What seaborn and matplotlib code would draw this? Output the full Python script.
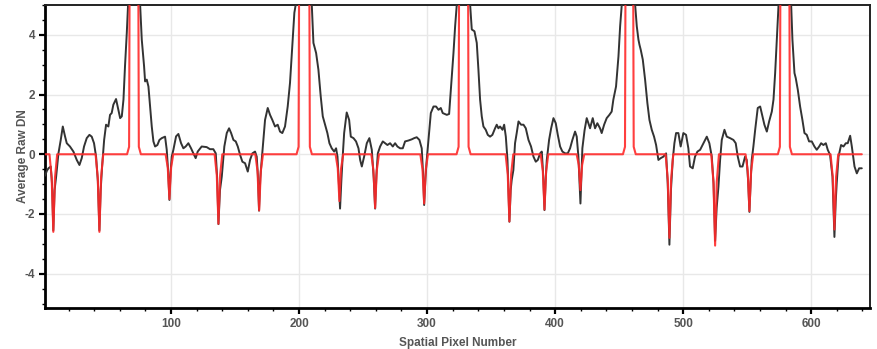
import matplotlib
matplotlib.use("Agg")
import matplotlib.pyplot as plt
import seaborn as sns
from matplotlib.ticker import MultipleLocator

# ---- data ----
black_x = [1.5, 3.0, 4.2, 6.0, 7.0, 8.0, 9.0, 10.2, 12.0, 13.8, 15.4, 17.2, 18.5, 21.0, 23.7, 26.3, 28.4, 30.2,
           32.0, 34.1, 36.2, 38.0, 39.8, 41.4, 42.8, 44.0, 45.0, 46.1, 47.7, 49.2, 51.0, 52.3, 53.6, 54.9, 57.0,
           58.8, 60.2, 61.5, 62.8, 64.0, 65.4, 66.4, 67.5, 74.5, 75.8, 77.1, 78.9, 79.7, 81.0, 82.3, 83.6, 84.9,
           86.2, 87.5, 89.3, 90.9, 92.7, 95.3, 96.6, 97.6, 98.7, 99.6, 100.5, 101.8, 103.9, 105.7, 107.8, 109.6,
           111.4, 113.5, 115.6, 117.4, 119.2, 120.8, 123.9, 127.8, 130.4, 133.0, 134.9, 136.0, 137.0, 138.2,
           139.6, 141.6, 143.5, 145.3, 146.9, 148.7, 150.5, 152.1, 153.9, 155.7, 157.8, 159.9, 161.7, 163.5,
           165.6, 166.9, 167.8, 168.7, 169.7, 170.8, 172.1, 173.4, 175.5, 177.3, 179.1, 181.2, 183.3, 185.1,
           186.9, 189.0, 191.1, 192.9, 194.8, 196.3, 197.4, 199.0, 208.0, 209.9, 211.2, 213.3, 215.1, 216.9,
           218.5, 220.3, 222.1, 223.7, 225.5, 227.4, 228.9, 230.0, 231.0, 232.0, 233.0, 233.9, 235.2, 237.2,
           239.1, 240.4, 242.5, 244.5, 246.4, 247.7, 249.0, 250.8, 252.9, 254.9, 256.8, 258.3, 259.4, 260.4,
           261.5, 263.3, 265.4, 267.2, 269.0, 271.1, 273.2, 275.0, 276.8, 278.9, 281.0, 282.8, 285.4, 288.0,
           289.9, 291.9, 294.0, 295.8, 296.8, 297.7, 298.7, 299.7, 301.1, 302.9, 305.0, 307.0, 308.9, 310.7,
           312.2, 315.4, 317.2, 318.7, 320.6, 321.9, 323.2, 325.0, 332.0, 333.6, 334.9, 337.0, 338.8, 340.1,
           341.4, 342.7, 344.0, 345.8, 347.4, 349.2, 351.0, 353.1, 354.4, 355.7, 357.0, 358.9, 360.2, 361.5,
           362.8, 364.3, 365.3, 366.1, 367.4, 368.7, 370.0, 371.4, 373.4, 375.3, 377.1, 379.2, 381.2, 383.1,
           384.9, 386.5, 388.3, 389.6, 390.7, 391.7, 392.6, 393.5, 395.3, 396.9, 398.7, 400.5, 402.1, 403.9,
           405.7, 407.8, 409.9, 411.7, 413.5, 415.6, 416.9, 418.2, 419.8, 421.3, 423.0, 424.7, 426.0, 427.3,
           429.4, 431.2, 433.0, 435.1, 436.4, 438.3, 440.3, 442.4, 444.2, 445.5, 447.6, 449.5, 450.8, 452.1,
           454.0, 461.0, 462.5, 463.8, 465.1, 465.9, 466.9, 468.5, 470.3, 472.1, 473.7, 475.5, 477.3, 478.9,
           480.7, 482.5, 484.6, 486.7, 488.0, 489.3, 490.5, 491.9, 493.2, 494.5, 496.3, 498.1, 500.2, 502.3,
           504.1, 505.4, 507.5, 509.3, 511.2, 513.3, 515.9, 518.5, 520.5, 522.4, 523.8, 525.0, 526.2, 527.6,
           528.9, 530.2, 532.3, 534.1, 536.7, 539.3, 541.1, 542.7, 544.5, 546.4, 548.4, 549.7, 550.8, 551.8,
           552.8, 553.6, 554.9, 556.3, 558.3, 560.2, 562.0, 563.5, 565.4, 567.2, 569.3, 570.6, 571.9, 573.2,
           574.5, 576.0, 583.0, 584.4, 585.4, 587.0, 588.0, 589.6, 591.4, 593.2, 594.8, 596.6, 598.4, 600.5,
           602.6, 604.4, 606.3, 607.8, 609.6, 611.5, 613.0, 614.8, 616.7, 618.2, 619.2, 620.0, 621.4, 623.4,
           625.3, 627.1, 628.6, 630.5, 631.8, 633.9, 635.7, 637.5, 639.6]
black_y = [-0.72, -0.55, -0.47, -0.41, -1.0, -2.55, -1.2, -0.75, 0.03, 0.48, 0.93, 0.59, 0.37, 0.26, 0.09, -0.19, -0.36, -0.13,
           0.26, 0.54, 0.65, 0.59, 0.37, -0.08, -0.9, -2.55, -1.2, -0.41, 0.48, 0.99, 0.93, 1.32, 1.38, 1.66, 1.85,
           1.49, 1.21, 1.27, 1.83, 2.95, 4.07, 5.02, 7.5, 7.5, 5.02, 3.84, 2.95, 2.44, 2.5, 2.27, 1.6, 0.93,
           0.43, 0.26, 0.31, 0.48, 0.54, 0.59, 0.15, -0.5, -1.53, -0.6, -0.08, 0.15, 0.6, 0.68, 0.37, 0.2,
           0.26, 0.37, 0.2, 0.03, -0.13, 0.09, 0.26, 0.24, 0.17, 0.17, 0.03, -0.8, -2.34, -1.2,
           -0.75, 0.26, 0.71, 0.87, 0.71, 0.48, 0.43, 0.26, -0.02, -0.25, -0.3, -0.58, -0.19, 0.03,
           0.09, -0.08, -0.7, -1.89, -0.8, -0.19, 0.48, 1.15, 1.55, 1.32, 1.15, 0.93, 0.99, 0.76,
           0.71, 0.93, 1.6, 2.39, 3.73, 4.74, 5.02, 7.5, 7.5, 5.02, 3.73, 3.39, 2.83, 1.94,
           1.27, 0.99, 0.71, 0.37, 0.2, 0.09, 0.2, -0.08, -0.9, -1.82, -0.9, -0.19, 0.71, 1.4,
           1.15, 0.59, 0.54, 0.43, 0.2, -0.19, -0.41, -0.08, 0.37, 0.54, 0.15, -0.8, -1.82, -0.7,
           0.03, 0.26, 0.43, 0.37, 0.31, 0.37, 0.26, 0.37, 0.26, 0.2, 0.2, 0.43, 0.46, 0.5,
           0.54, 0.57, 0.48, 0.2, -0.6, -1.7, -0.8, -0.19, 0.48, 1.38, 1.6, 1.6, 1.49, 1.55,
           1.38, 1.32, 1.35, 2.27, 3.39, 4.29, 5.02, 7.5, 7.5, 5.02, 4.18, 4.12, 3.73, 2.83,
           1.83, 1.27, 0.93, 0.82, 0.65, 0.59, 0.65, 0.87, 0.99, 0.87, 0.93, 0.82, 0.99, 0.59,
           -0.19, -2.26, -1.2, -0.86, -0.53, 0.37, 0.71, 1.1, 0.99, 0.99, 0.87, 0.48, 0.26, -0.08,
           -0.25, -0.19, 0.03, 0.09, -0.7, -1.87, -0.9, -0.19, 0.48, 0.87, 1.21, 1.04, 0.65, 0.26,
           0.09, 0.03, 0.03, 0.2, 0.48, 0.76, 0.59, -0.08, -1.65, 0.2, 0.8, 1.21, 1.04, 0.87,
           1.21, 0.87, 1.04, 0.87, 0.71, 0.99, 1.21, 1.32, 1.43, 1.83, 2.27, 3.28, 4.29, 5.02,
           7.5, 7.5, 5.02, 4.29, 3.84, 3.67, 3.5, 3.17, 2.5, 1.71, 1.15, 0.82, 0.59, 0.31,
           -0.19, -0.13, -0.08, 0.03, -1.0, -3.03, -1.2, -0.19, 0.37, 0.71, 0.71, 0.26, 0.71, 0.65,
           0.2, -0.41, -0.47, -0.08, 0.09, 0.15, 0.37, 0.59, 0.37, -0.08, -1.0, -2.9, -1.8, -1.09,
           -0.19, 0.48, 0.82, 0.59, 0.54, 0.48, 0.37, -0.08, -0.41, -0.41, -0.08, -0.19, -0.9, -1.93,
           -0.9, -0.19, 0.26, 0.82, 1.55, 1.6, 1.27, 0.99, 0.76, 1.1, 1.43, 1.83, 2.72, 3.84,
           4.96, 7.5, 7.5, 5.02, 3.84, 2.72, 2.55, 2.16, 1.6, 1.15, 0.71, 0.65, 0.43, 0.43,
           0.26, 0.15, 0.26, 0.37, 0.31, 0.37, 0.15, -0.02, -0.75, -2.77, -1.6, -0.97, -0.08, 0.31,
           0.26, 0.37, 0.37, 0.62, 0.26, -0.41, -0.64, -0.47, -0.47]

red_x = [1.5,
         5.0, 6.7, 8.0, 9.3, 11.0,
         41.0, 42.7, 44.0, 45.3, 47.0,
         65.6, 67.2, 67.6, 74.4, 74.8, 76.4,
         95.7, 97.4, 98.7, 100.0, 101.7,
         134.0, 135.7, 137.0, 138.3, 140.0,
         165.8, 167.5, 168.8, 170.1, 171.8,
         198.0, 199.6, 200.0, 208.0, 208.4, 210.0,
         228.5, 230.2, 231.5, 232.8, 234.5,
         256.4, 258.1, 259.4, 260.7, 262.4,
         294.7, 296.4, 297.7, 299.0, 300.7,
         323.0, 324.6, 325.0, 332.0, 332.4, 334.0,
         361.3, 363.0, 364.3, 365.6, 367.3,
         388.7, 390.4, 391.7, 393.0, 394.7,
         416.8, 418.5, 419.8, 421.1, 422.8,
         453.0, 454.6, 455.0, 461.0, 461.4, 463.0,
         486.3, 488.0, 489.3, 490.6, 492.3,
         522.0, 523.7, 525.0, 526.3, 528.0,
         548.8, 550.5, 551.8, 553.1, 554.8,
         574.0, 575.6, 576.0, 583.0, 583.4, 585.0,
         615.2, 616.9, 618.2, 619.5, 621.2,
         639.6]
red_y = [0.0,
         0.0, -0.78, -2.6, -0.78, 0.0,
         0.0, -0.78, -2.6, -0.78, 0.0,
         0.0, 0.25, 6.0, 6.0, 0.25, 0.0,
         0.0, -0.45, -1.5, -0.45, 0.0,
         0.0, -0.7, -2.33, -0.7, 0.0,
         0.0, -0.56, -1.88, -0.56, 0.0,
         0.0, 0.25, 6.0, 6.0, 0.25, 0.0,
         0.0, -0.47, -1.57, -0.47, 0.0,
         0.0, -0.54, -1.8, -0.54, 0.0,
         0.0, -0.5, -1.65, -0.5, 0.0,
         0.0, 0.25, 6.0, 6.0, 0.25, 0.0,
         0.0, -0.68, -2.25, -0.68, 0.0,
         0.0, -0.56, -1.85, -0.56, 0.0,
         0.0, -0.36, -1.2, -0.36, 0.0,
         0.0, 0.25, 6.0, 6.0, 0.25, 0.0,
         0.0, -0.84, -2.8, -0.84, 0.0,
         0.0, -0.92, -3.06, -0.92, 0.0,
         0.0, -0.57, -1.9, -0.57, 0.0,
         0.0, 0.25, 6.0, 6.0, 0.25, 0.0,
         0.0, -0.76, -2.52, -0.76, 0.0,
         0.0]

x_label = "Spatial Pixel Number"
y_label = "Average Raw DN"

# ---- style ----
sns.set_style("ticks")
plt.rcParams['font.family'] = ['Liberation Sans', 'DejaVu Sans']
plt.rcParams['axes.unicode_minus'] = False

fig = plt.figure(figsize=(8.77, 3.49), dpi=100)
ax = fig.add_axes([45 / 877, 1 - 308 / 349, 825 / 877, 303 / 349])

sns.lineplot(x=black_x, y=black_y, ax=ax, color='#333333', linewidth=1.4,
             sort=False, estimator=None, zorder=3)
sns.lineplot(x=red_x, y=red_y, ax=ax, color='#ff2a2a', linewidth=1.5, alpha=0.9,
             sort=False, estimator=None, zorder=4)

ax.set_xlim(1.5, 646)
ax.set_ylim(-5.15, 5.0)
ax.xaxis.set_major_locator(MultipleLocator(100))
ax.xaxis.set_minor_locator(MultipleLocator(20))
ax.yaxis.set_major_locator(MultipleLocator(2))
ax.yaxis.set_minor_locator(MultipleLocator(0.5))

ax.grid(which='major', color='#e8e8e8', linewidth=1.0)
ax.set_axisbelow(True)

ax.tick_params(which='major', direction='out', length=4, width=1.6, color='black',
               labelcolor='#555555', labelsize=8.5, pad=3)
ax.tick_params(which='minor', direction='out', length=2.5, width=1.0, color='black')
for lab in ax.get_xticklabels() + ax.get_yticklabels():
    lab.set_fontweight('bold')

for side in ['left', 'bottom']:
    ax.spines[side].set_linewidth(2.0)
    ax.spines[side].set_color('black')
for side in ['top', 'right']:
    ax.spines[side].set_linewidth(1.4)
    ax.spines[side].set_color('#222222')

ax.set_xlabel(x_label, fontsize=8.5, fontweight='bold', color='#555555', labelpad=5)
ax.set_ylabel(y_label, fontsize=8.5, fontweight='bold', color='#555555', labelpad=-3)

fig.savefig('out.png', dpi=100)
